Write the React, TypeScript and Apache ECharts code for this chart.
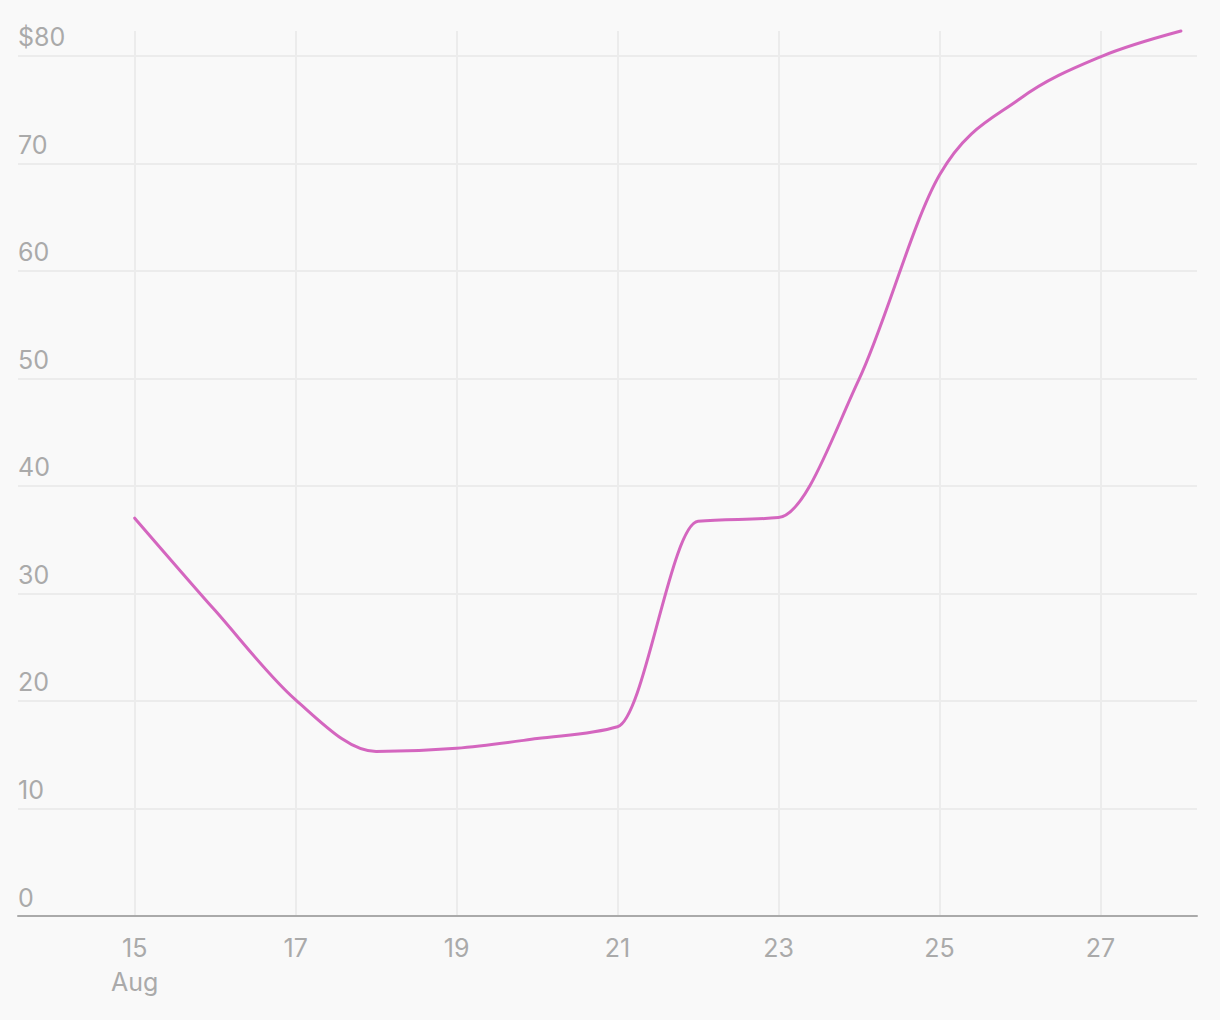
import React, { useEffect, useRef } from "react";
import * as echarts from "echarts";

const days = [15, 16, 17, 18, 19, 20, 21, 22, 23, 24, 25, 26, 27, 28];
const prices = [37.0, 28.4, 20.1, 15.3, 15.6, 16.5, 17.6, 36.7, 37.05, 49.9, 68.9, 76.0, 79.9, 82.3];
const xTicks = [15, 17, 19, 21, 23, 25, 27];
const yTicks = [0, 10, 20, 30, 40, 50, 60, 70, 80];
const monthLabel = "Aug";

const LINE_COLOR = "#d466bf";

// monotone-x tangents (same rule as d3.curveMonotoneX)
function monotoneTangents(xs: number[], ys: number[]): number[] {
  const n = xs.length;
  const t: number[] = new Array(n).fill(0);
  const sign = (v: number) => (v < 0 ? -1 : 1);
  for (let i = 1; i < n - 1; i++) {
    const h0 = xs[i] - xs[i - 1];
    const h1 = xs[i + 1] - xs[i];
    const s0 = (ys[i] - ys[i - 1]) / h0;
    const s1 = (ys[i + 1] - ys[i]) / h1;
    const p = (s0 * h1 + s1 * h0) / (h0 + h1);
    t[i] = (sign(s0) + sign(s1)) * Math.min(Math.abs(s0), Math.abs(s1), 0.5 * Math.abs(p)) || 0;
  }
  if (n > 1) {
    const h = xs[1] - xs[0];
    t[0] = (3 * (ys[1] - ys[0]) / h - t[1]) / 2;
    const hl = xs[n - 1] - xs[n - 2];
    t[n - 1] = (3 * (ys[n - 1] - ys[n - 2]) / hl - t[n - 2]) / 2;
  }
  return t;
}

export default function App() {
  const ref = useRef<HTMLDivElement>(null);
  useEffect(() => {
    document.body.style.margin = "0";
    const chart = echarts.init(ref.current!, null, { renderer: "svg" });
    const font = "Inter, 'Noto Sans', sans-serif";
    const tangents = monotoneTangents(days, prices);
    chart.setOption({
      animation: false,
      backgroundColor: "#f9f9f9",
      grid: { left: 18, right: 23, top: 31, bottom: 104 },
      xAxis: {
        type: "value",
        min: 13.55,
        max: 28.2,
        axisLine: { show: true, lineStyle: { color: "#aaaaaa", width: 2 } },
        axisTick: { show: false, customValues: xTicks },
        splitLine: { show: true, lineStyle: { color: "#ececec", width: 2 } },
        axisLabel: {
          customValues: xTicks,
          color: "#aaaaaa",
          fontSize: 25,
          fontFamily: font,
          lineHeight: 34,
          margin: 15,
          formatter: (v: number) => (v === xTicks[0] ? `${v}\n${monthLabel}` : `${v}`),
        },
      },
      yAxis: {
        type: "value",
        min: 0,
        max: 82.3,
        axisLine: { show: false },
        axisTick: { show: false, customValues: yTicks },
        splitLine: { show: true, lineStyle: { color: "#ececec", width: 2 } },
        axisLabel: {
          customValues: yTicks,
          inside: true,
          margin: 0,
          color: "#aaaaaa",
          fontSize: 25,
          fontFamily: font,
          verticalAlign: "bottom",
          padding: [0, 0, 6, 0],
          formatter: (v: number) => (v === yTicks[yTicks.length - 1] ? `$${v}` : `${v}`),
        },
      },
      series: [
        {
          type: "custom",
          data: days.map((d, i) => [d, prices[i]]),
          encode: { x: 0, y: 1 },
          renderItem: (params: any, api: any) => {
            if (params.dataIndex !== 0) return null;
            let d = "";
            for (let i = 0; i < days.length; i++) {
              const p = api.coord([days[i], prices[i]]);
              if (i === 0) {
                d += `M${p[0]},${p[1]}`;
              } else {
                const dx = (days[i] - days[i - 1]) / 3;
                const c1 = api.coord([days[i - 1] + dx, prices[i - 1] + dx * tangents[i - 1]]);
                const c2 = api.coord([days[i] - dx, prices[i] - dx * tangents[i]]);
                d += `C${c1[0]},${c1[1]} ${c2[0]},${c2[1]} ${p[0]},${p[1]}`;
              }
            }
            return {
              type: "path",
              shape: { pathData: d },
              style: { fill: "none", stroke: LINE_COLOR, lineWidth: 3, lineCap: "round", lineJoin: "round" },
              silent: true,
            };
          },
        },
      ],
    });
    return () => chart.dispose();
  }, []);
  return <div ref={ref} style={{ position: "fixed", left: 0, top: 0, width: 1220, height: 1020 }} />;
}
